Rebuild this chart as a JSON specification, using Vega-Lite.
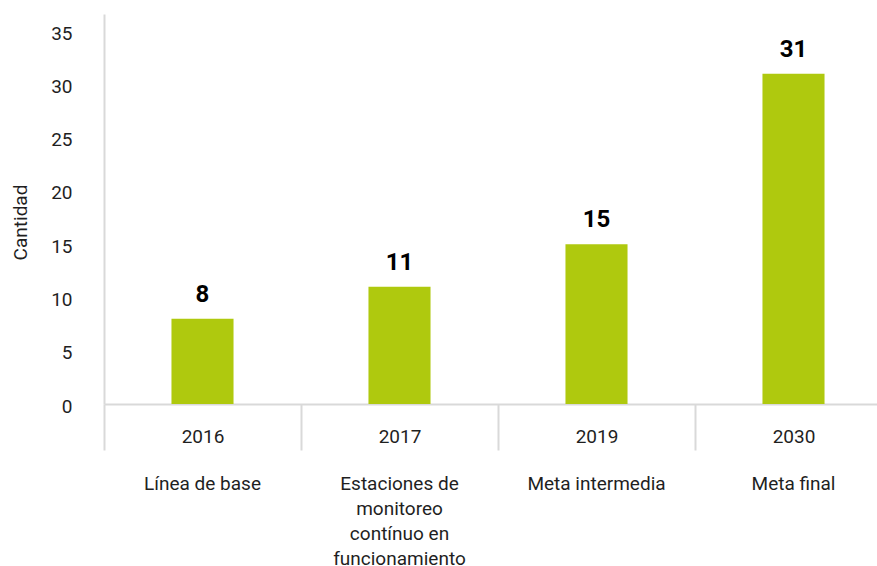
{
  "$schema": "https://vega.github.io/schema/vega-lite/v6.json",
  "width": 773,
  "height": 390,
  "autosize": {"type": "none"},
  "padding": {"left": 104, "top": 14, "right": 0, "bottom": 162},
  "background": "white",
  "config": {"view": {"stroke": null}, "font": "Roboto"},
  "data": {
    "values": [
      {"year": "2016", "name": "Línea de base", "value": 8},
      {"year": "2017", "name": "Estaciones de monitoreo contínuo en funcionamiento", "value": 11},
      {"year": "2019", "name": "Meta intermedia", "value": 15},
      {"year": "2030", "name": "Meta final", "value": 31}
    ]
  },
  "encoding": {
    "y": {
      "field": "value",
      "type": "quantitative",
      "scale": {"domain": [0, 36.6], "nice": false},
      "axis": {
        "title": "Cantidad",
        "titleFontSize": 19,
        "titleFontWeight": "normal",
        "titleColor": "#1f1f1f",
        "titleX": -84,
        "titleY": 208,
        "titleAlign": "center",
        "titleBaseline": "middle",
        "titleAngle": -90,
        "values": [0, 5, 10, 15, 20, 25, 30, 35],
        "grid": false,
        "ticks": false,
        "labelPadding": 32,
        "labelFontSize": 19,
        "labelColor": "#1f1f1f",
        "labelOffset": 2,
        "domainColor": "#d9d9d9",
        "domainWidth": 2
      }
    }
  },
  "layer": [
    {
      "mark": {"type": "bar", "width": {"band": 0.315}, "color": "#AFC90E"},
      "encoding": {
        "x": {
          "field": "year",
          "type": "nominal",
          "sort": null,
          "scale": {"paddingInner": 0, "paddingOuter": 0, "range": [0, 788]},
          "axis": {
            "orient": "bottom",
            "title": null,
            "labelAngle": 0,
            "labelFontSize": 19,
            "labelColor": "#1f1f1f",
            "labelPadding": -23,
            "labelOverlap": false,
            "labelExpr": "datum.value == null ? '' : datum.value",
            "domainColor": "#d9d9d9",
            "domainWidth": 2,
            "ticks": true,
            "tickBand": "extent",
            "tickSize": 46,
            "tickColor": "#d9d9d9",
            "tickWidth": 2
          }
        }
      }
    },
    {
      "mark": {"type": "text", "dy": -12, "baseline": "bottom", "fontSize": 24, "fontWeight": "bold", "color": "#000000"},
      "encoding": {
        "x": {
          "field": "year",
          "type": "nominal",
          "sort": null,
          "axis": {
            "orient": "bottom",
            "title": null,
            "domain": false,
            "ticks": false,
            "labelAngle": 0,
            "labelFontSize": 19,
            "labelColor": "#1f1f1f",
            "labelLineHeight": 25,
            "labelPadding": 70,
            "labelOverlap": false,
            "labelLimit": 0,
            "labelBaseline": "top",
            "labelExpr": "datum.value == '2016' ? 'Línea de base' : datum.value == '2017' ? ['Estaciones de', 'monitoreo', 'contínuo en', 'funcionamiento'] : datum.value == '2019' ? 'Meta intermedia' : datum.value == '2030' ? 'Meta final' : ''"
          }
        },
        "text": {"field": "value", "type": "quantitative"}
      }
    }
  ],
  "resolve": {"axis": {"x": "independent"}}
}
